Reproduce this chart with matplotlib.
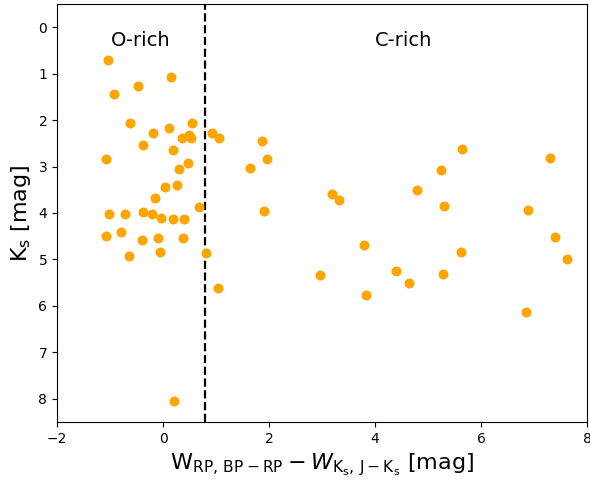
import matplotlib
matplotlib.use('Agg')
import matplotlib.pyplot as plt

# colour index W_RP,BP-RP - W_Ks,J-Ks  and  Ks magnitude
w_diff = [-1.03, 0.16, -0.47, -0.92, -0.62, 0.54, -0.18, 0.11, 0.92, 0.35,
          0.49, 0.52, 1.05, -0.38, 0.19, -1.08, 0.48, 0.30, 1.65, 0.04,
          0.26, -0.15, 0.68, -1.01, -0.72, -0.37, -0.20, -0.04, 0.18, 0.39,
          -1.08, -0.79, -0.40, -0.10, 0.37, -0.64, -0.05, 0.81, 1.04, 0.20,
          1.87, 1.96, 1.91, 3.18, 3.32, 3.79, 2.96, 3.83, 4.39, 4.64,
          4.79, 5.25, 5.31, 5.28, 5.64, 5.62, 6.89, 6.85, 7.30, 7.40, 7.62]
ks_mag = [0.71, 1.07, 1.27, 1.44, 2.07, 2.07, 2.27, 2.18, 2.27, 2.38,
          2.33, 2.38, 2.38, 2.54, 2.65, 2.84, 2.93, 3.05, 3.03, 3.44,
          3.40, 3.68, 3.87, 4.03, 4.03, 3.98, 4.02, 4.11, 4.12, 4.13,
          4.49, 4.41, 4.59, 4.54, 4.53, 4.92, 4.84, 4.86, 5.62, 8.04,
          2.44, 2.83, 3.96, 3.60, 3.73, 4.68, 5.33, 5.77, 5.25, 5.50,
          3.51, 3.08, 3.85, 5.32, 2.63, 4.84, 3.93, 6.14, 2.82, 4.52, 5.00]

divide = 0.8

fig = plt.figure(figsize=(5.9, 4.82), dpi=100)
ax = fig.add_axes([0.0966, 0.1245, 0.8984, 0.8672])

ax.scatter(w_diff, ks_mag, color='orange', s=38, zorder=3)
ax.axvline(divide, color='black', ls='--', lw=1.6)

ax.text(-0.43, 0.28, 'O-rich', fontsize=14, ha='center', va='center')
ax.text(4.53, 0.28, 'C-rich', fontsize=14, ha='center', va='center')

ax.set_xlim(-2, 8)
ax.set_ylim(8.5, -0.5)
ax.set_xticks([-2, 0, 2, 4, 6, 8])
ax.set_yticks(range(0, 9))
ax.tick_params(labelsize=10)

ax.set_xlabel(r'$\mathrm{W_{RP,\,BP-RP}} - W_{\mathrm{K_s},\,\mathrm{J-K_s}}$ [mag]',
              fontsize=16)
ax.set_ylabel(r'$\mathrm{K_s}$ [mag]', fontsize=16)

fig.savefig('out.png', dpi=100)
